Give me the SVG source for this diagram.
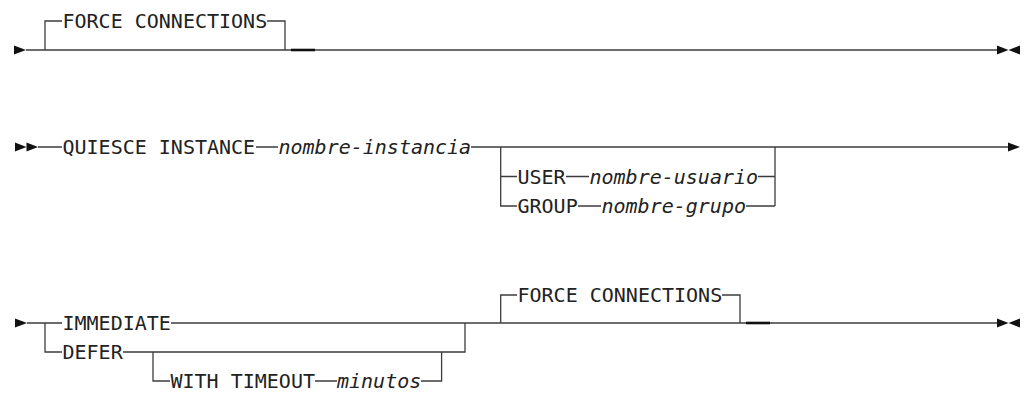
<svg xmlns="http://www.w3.org/2000/svg" width="1024" height="393" viewBox="0 0 1024 393">
<style>
.t{font-family:"DejaVu Sans Mono","Liberation Mono",monospace;font-size:20px;fill:#222}
.i{font-style:italic}
.ln{fill:none;stroke:#3c3c3c;stroke-width:1.3}
.thk{fill:none;stroke:#111;stroke-width:2.6}
.ah{fill:#111}
</style>
<rect width="1024" height="393" fill="#fff"/>
<g id="connectors">
  <!-- Row 1 -->
  <polygon class="ah" points="14,45.5 26,50 14,54.5"/>
  <path class="ln" d="M26,50 H997"/>
  <path class="ln" d="M45,50 V21 H62 M267,21 H285 V50"/>
  <path class="thk" d="M291,50 H315"/>
  <polygon class="ah" points="997,45.5 1008.5,50 997,54.5"/>
  <polygon class="ah" points="1020,45.5 1008.5,50 1020,54.5"/>
  <!-- Row 2 -->
  <polygon class="ah" points="15,142.5 26.5,147 15,151.5"/>
  <polygon class="ah" points="26.5,142.5 38,147 26.5,151.5"/>
  <path class="ln" d="M38,147 H62 M256,147 H278 M471,147 H1009"/>
  <polygon class="ah" points="1008,142.5 1020,147 1008,151.5"/>
  <path class="ln" d="M500.7,147 V206 H517 M500.7,176.5 H517"/>
  <path class="ln" d="M566,176.5 H589 M758,176.5 H775 M578,206 H601 M746,206 H775 M775,147 V206"/>
  <!-- Row 3 -->
  <polygon class="ah" points="15,318.5 27,323 15,327.5"/>
  <path class="ln" d="M27,323 H62 M45,323 V352 H62"/>
  <path class="ln" d="M171,323 H997"/>
  <path class="ln" d="M123,352 H465 V323"/>
  <path class="ln" d="M153,352 V381 H170 M315,381 H337 M421,381 H441.6 V352"/>
  <path class="ln" d="M500.7,323 V295 H517 M722,295 H740 V323"/>
  <path class="thk" d="M746,323 H770"/>
  <polygon class="ah" points="997,318.5 1008.5,323 997,327.5"/>
  <polygon class="ah" points="1020,318.5 1008.5,323 1020,327.5"/>
</g>
<g id="force-connections-1"><text class="t" x="62.5" y="28">FORCE CONNECTIONS</text></g>
<g id="quiesce-instance"><text class="t" x="62.5" y="154">QUIESCE INSTANCE</text></g>
<g id="nombre-instancia"><text class="t i" x="278.5" y="154">nombre-instancia</text></g>
<g id="user"><text class="t" x="517.5" y="183.5">USER</text></g>
<g id="nombre-usuario"><text class="t i" x="589.5" y="183.5">nombre-usuario</text></g>
<g id="group"><text class="t" x="517.5" y="213">GROUP</text></g>
<g id="nombre-grupo"><text class="t i" x="601.5" y="213">nombre-grupo</text></g>
<g id="immediate"><text class="t" x="62.5" y="330">IMMEDIATE</text></g>
<g id="defer"><text class="t" x="62.5" y="359">DEFER</text></g>
<g id="with-timeout"><text class="t" x="170.5" y="388">WITH TIMEOUT</text></g>
<g id="minutos"><text class="t i" x="337" y="388">minutos</text></g>
<g id="force-connections-2"><text class="t" x="517.5" y="302">FORCE CONNECTIONS</text></g>
</svg>
